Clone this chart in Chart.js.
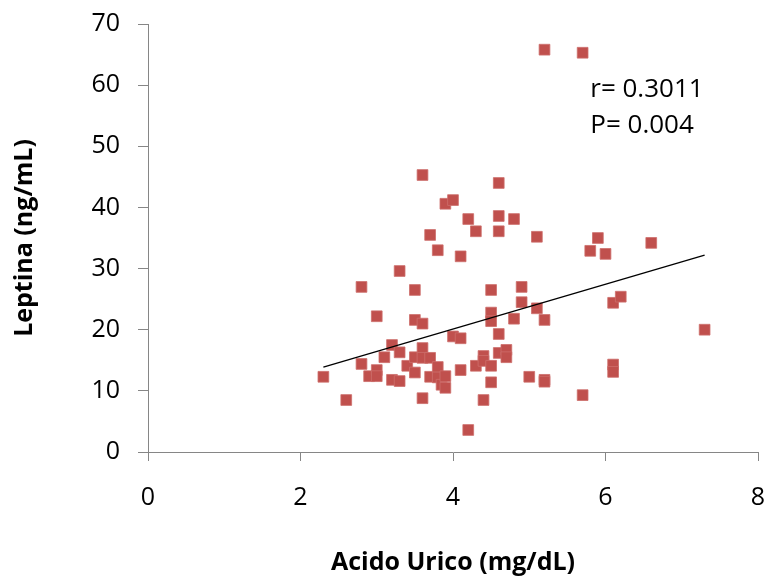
<!DOCTYPE html>
<html lang="es">
<head>
<meta charset="UTF-8">
<title>Leptina vs Acido Urico</title>
<script src="https://cdn.jsdelivr.net/npm/chart.js"></script>
<style>
  html, body { margin: 0; padding: 0; background: #fff; }
  #wrap { width: 770px; height: 581px; }
</style>
</head>
<body>
<div id="wrap"><canvas id="scatter" width="770" height="581"></canvas></div>
<script>
// acido urico (mg/dL) and leptina (ng/mL)
const acidoUrico = [
  2.3, 2.6, 2.8, 2.8, 2.9, 3.0, 3.0, 3.0, 3.1, 3.2,
  3.2, 3.3, 3.3, 3.3, 3.4, 3.5, 3.5, 3.5, 3.5, 3.6,
  3.6, 3.6, 3.6, 3.6, 3.7, 3.7, 3.7, 3.8, 3.8, 3.8,
  3.85, 3.9, 3.9, 3.9, 4.0, 4.0, 4.1, 4.1, 4.1, 4.2,
  4.2, 4.3, 4.3, 4.4, 4.4, 4.4, 4.5, 4.5, 4.5, 4.5,
  4.5, 4.6, 4.6, 4.6, 4.6, 4.6, 4.7, 4.7, 4.8, 4.8,
  4.9, 4.9, 5.0, 5.1, 5.1, 5.2, 5.2, 5.2, 5.2, 5.7,
  5.7, 5.8, 5.9, 6.0, 6.1, 6.1, 6.1, 6.2, 6.6, 7.3
];
const leptina = [
  12.3, 8.5, 27.0, 14.4, 12.4, 22.2, 13.4, 12.4, 15.5, 17.5,
  11.8, 29.6, 16.3, 11.6, 14.1, 26.5, 21.6, 15.5, 13.0, 45.3,
  21.0, 17.0, 15.4, 8.8, 35.5, 15.4, 12.3, 33.0, 13.9, 12.2,
  11.0, 40.6, 12.4, 10.5, 41.2, 18.9, 32.0, 18.6, 13.4, 38.1,
  3.6, 36.1, 14.1, 15.7, 14.9, 8.5, 26.5, 22.8, 21.4, 14.1,
  11.4, 44.0, 38.6, 36.1, 19.3, 16.2, 16.7, 15.5, 38.1, 21.8,
  27.0, 24.5, 12.3, 35.2, 23.5, 65.8, 21.6, 11.8, 11.5, 65.3,
  9.3, 32.9, 35.0, 32.4, 24.4, 14.3, 13.1, 25.4, 34.2, 20.0
];
// linear trend line end points
const trendX = [2.3, 7.3];
const trendY = [13.9, 32.2];
const statLines = ['r= 0.3011', 'P= 0.004'];

const points = acidoUrico.map((x, i) => ({ x: x, y: leptina[i] }));
const trend = trendX.map((x, i) => ({ x: x, y: trendY[i] }));

const axisGray = '#868686';
const fontFam = "'Open Sans', 'Liberation Sans', sans-serif";

// draws the r / P text inside the plot
const statsText = {
  id: 'statsText',
  afterDatasetsDraw(chart) {
    const { ctx, scales } = chart;
    const x = scales.x.getPixelForValue(5.8);
    const y0 = scales.y.getPixelForValue(59.3);
    ctx.save();
    ctx.fillStyle = '#000';
    ctx.font = '26px ' + fontFam;
    ctx.textAlign = 'left';
    ctx.textBaseline = 'middle';
    statLines.forEach((t, i) => ctx.fillText(t, x, y0 + i * 36));
    ctx.restore();
  }
};

new Chart(document.getElementById('scatter'), {
  type: 'scatter',
  data: {
    datasets: [
      {
        label: 'Leptina',
        data: points,
        pointStyle: 'rect',
        pointRadius: 7.6,
        pointHoverRadius: 7.6,
        backgroundColor: '#C0504D',
        borderColor: 'rgba(205,110,108,0.8)',
        borderWidth: 1,
        order: 2
      },
      {
        label: 'Tendencia',
        type: 'line',
        data: trend,
        borderColor: '#000',
        borderWidth: 1.3,
        pointRadius: 0,
        fill: false,
        order: 1
      }
    ]
  },
  options: {
    responsive: false,
    animation: false,
    layout: { padding: { left: 0, right: 12, top: 24, bottom: 0 } },
    plugins: {
      legend: { display: false },
      tooltip: { enabled: false }
    },
    scales: {
      x: {
        type: 'linear',
        min: 0,
        max: 8,
        ticks: { stepSize: 2, padding: 22, color: '#000', font: { family: fontFam, size: 25 } },
        grid: { drawOnChartArea: false, drawTicks: true, tickLength: 9, color: axisGray },
        border: { color: axisGray, width: 1 },
        title: {
          display: true,
          text: 'Acido Urico (mg/dL)',
          color: '#000',
          font: { family: fontFam, size: 25, weight: 'bold' },
          padding: { top: 0, bottom: 3 }
        },
        afterFit(scale) {
          scale.height = 129;
          scale.paddingLeft = 6;
          scale.paddingRight = 6;
        }
      },
      y: {
        min: 0,
        max: 70,
        ticks: { stepSize: 10, padding: 18, color: '#000', font: { family: fontFam, size: 25 } },
        grid: { drawOnChartArea: false, drawTicks: true, tickLength: 10, color: axisGray },
        border: { color: axisGray, width: 1 },
        title: {
          display: true,
          text: 'Leptina (ng/mL)',
          color: '#000',
          font: { family: fontFam, size: 25, weight: 'bold' },
          padding: { top: 10, bottom: 0 }
        },
        afterFit(scale) {
          scale.width = 148;
          scale.paddingTop = 6;
          scale.paddingBottom = 6;
        }
      }
    }
  },
  plugins: [statsText]
});
</script>
</body>
</html>
